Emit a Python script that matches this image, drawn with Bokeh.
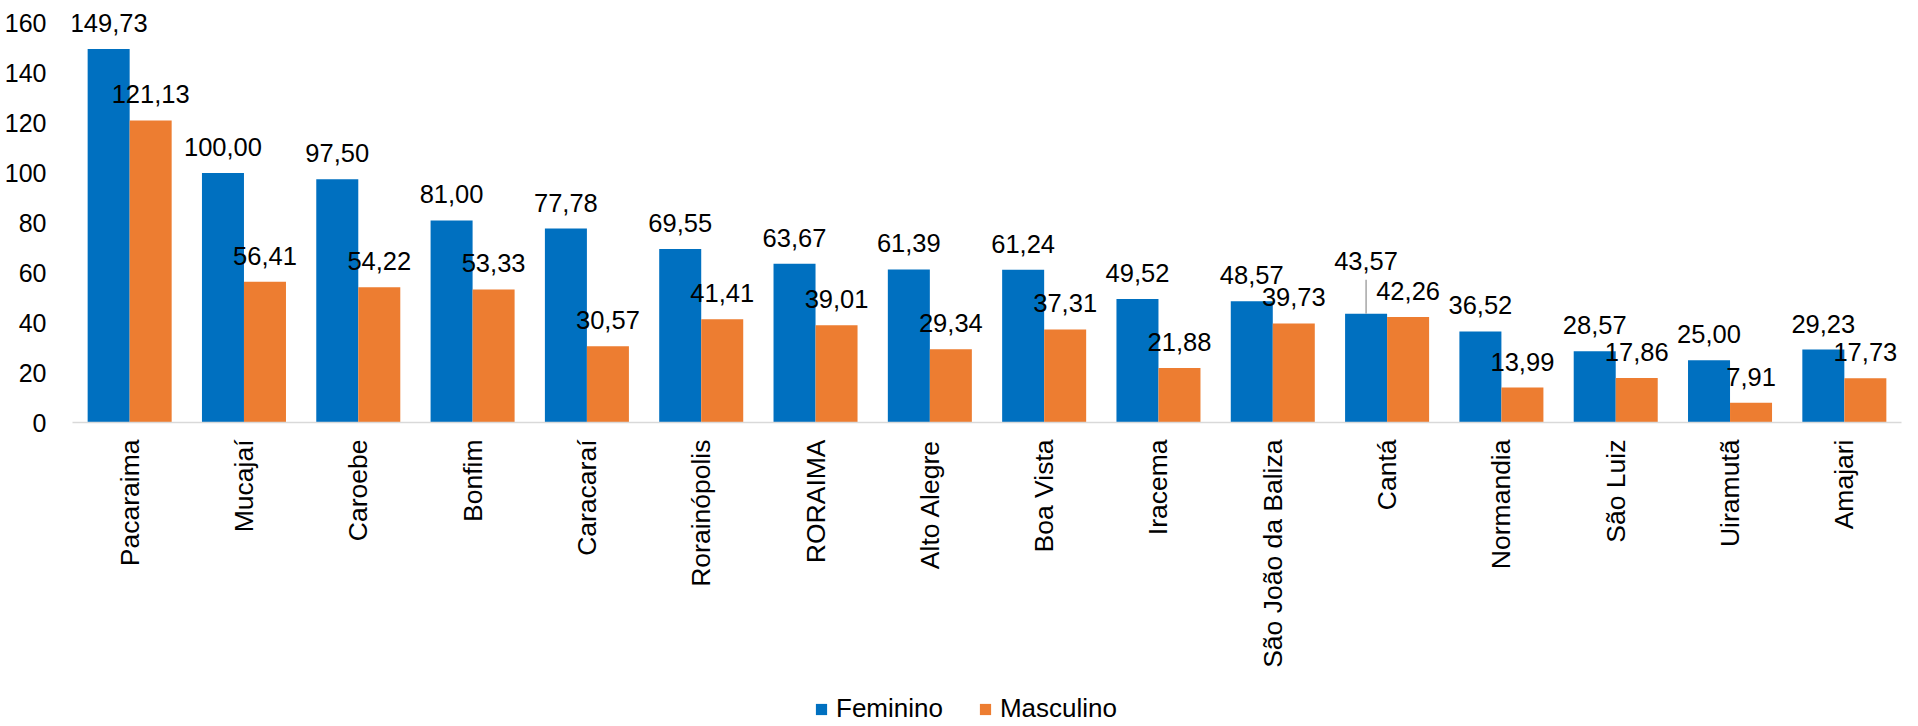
import math
from bokeh.plotting import figure
from bokeh.layouts import column
from bokeh.models import (ColumnDataSource, FactorRange, Range1d, FixedTicker,
                          LabelSet, Legend, LegendItem)
from bokeh.core.properties import value
from bokeh.transform import dodge
from bokeh.embed import file_html
from bokeh.resources import INLINE

# ---- data ----
categories = ["Pacaraima", "Mucajaí", "Caroebe", "Bonfim", "Caracaraí",
              "Rorainópolis", "RORAIMA", "Alto Alegre", "Boa Vista", "Iracema",
              "São João da Baliza", "Cantá", "Normandia", "São Luiz",
              "Uiramutã", "Amajari"]
feminino = [149.73, 100.00, 97.50, 81.00, 77.78, 69.55, 63.67, 61.39, 61.24,
            49.52, 48.57, 43.57, 36.52, 28.57, 25.00, 29.23]
masculino = [121.13, 56.41, 54.22, 53.33, 30.57, 41.41, 39.01, 29.34, 37.31,
             21.88, 39.73, 42.26, 13.99, 17.86, 7.91, 17.73]
y_ticks = [0, 20, 40, 60, 80, 100, 120, 140, 160]
series_names = ["Feminino", "Masculino"]

# ---- style ----
FONT = "Liberation Sans"
BLUE = "#0070C0"
ORANGE = "#ED7D31"
BAR_W = 0.3675
LABEL_PX = 17          # gap between bar top and label baseline
RAISED = {("Feminino", "Cantá"): 27}   # extra lift for an overlapping label


def fmt(v):
    return f"{v:.2f}".replace(".", ",")


W = 1918
H_MAIN, H_LEG = 690, 36
LEFT, RIGHT, TOP, BOTTOM = 72, 17, 3, 268
Y_END = 168            # head-room above the last tick so labels are not clipped
frame_h = H_MAIN - TOP - BOTTOM
px_per_unit = frame_h / Y_END

src = ColumnDataSource(dict(cat=categories, fem=feminino, mas=masculino))

p = figure(width=W, height=H_MAIN, output_backend="svg", toolbar_location=None,
           x_range=FactorRange(factors=categories, range_padding=0),
           y_range=Range1d(0, Y_END),
           min_border_left=LEFT, min_border_right=RIGHT,
           min_border_top=TOP, min_border_bottom=BOTTOM)
p.outline_line_color = None
p.xgrid.grid_line_color = None
p.ygrid.grid_line_color = None

r1 = p.vbar(x=dodge("cat", -BAR_W / 2, range=p.x_range), top="fem", width=BAR_W,
            source=src, fill_color=BLUE, line_color=None)
r2 = p.vbar(x=dodge("cat", BAR_W / 2, range=p.x_range), top="mas", width=BAR_W,
            source=src, fill_color=ORANGE, line_color=None)

# leader lines for raised labels
lx, ly0, ly1 = [], [], []
for (s, c), extra in RAISED.items():
    i = categories.index(c)
    v = feminino[i] if s == "Feminino" else masculino[i]
    lx.append(c)
    ly0.append(v)
    ly1.append(v + (extra + 7) / px_per_unit)
lsrc = ColumnDataSource(dict(x=lx, y0=ly0, y1=ly1))
p.segment(x0=dodge("x", -BAR_W / 2, range=p.x_range),
          x1=dodge("x", -BAR_W / 2, range=p.x_range),
          y0="y0", y1="y1", source=lsrc, line_color="#A6A6A6", line_width=1.5)

# data labels
for name, vals, d in ((series_names[0], feminino, -BAR_W / 2),
                      (series_names[1], masculino, BAR_W / 2)):
    offs = [LABEL_PX + RAISED.get((name, c), 0) for c in categories]
    for o in sorted(set(offs)):
        idx = [i for i, v in enumerate(offs) if v == o]
        s = ColumnDataSource(dict(cat=[categories[i] for i in idx],
                                  val=[vals[i] for i in idx],
                                  txt=[fmt(vals[i]) for i in idx]))
        p.add_layout(LabelSet(x=dodge("cat", d, range=p.x_range), y="val", text="txt",
                              y_offset=o, source=s,
                              text_font=value(FONT), text_font_size=value("25.5px"),
                              text_color="#000000",
                              text_align="center", text_baseline="alphabetic"))

# axes
xa = p.xaxis[0]
xa.axis_line_color = "#D9D9D9"
xa.axis_line_width = 1.5
xa.major_tick_line_color = None
xa.minor_tick_line_color = None
xa.major_label_orientation = math.pi / 2
xa.major_label_standoff = 11
xa.major_label_text_font = FONT
xa.major_label_text_font_size = "26.5px"
xa.major_label_text_color = "#000000"

ya = p.yaxis[0]
ya.ticker = FixedTicker(ticks=y_ticks)
ya.axis_line_color = None
ya.major_tick_line_color = None
ya.minor_tick_line_color = None
ya.major_label_standoff = 20
ya.major_label_text_font = FONT
ya.major_label_text_font_size = "25px"
ya.major_label_text_color = "#000000"

# legend in its own strip below the chart
pl = figure(width=W, height=H_LEG, output_backend="svg", toolbar_location=None,
            x_range=Range1d(0, 1), y_range=Range1d(0, 1), min_border=0)
pl.outline_line_color = None
pl.axis.visible = False
pl.grid.visible = False
d1 = pl.vbar(x=[0.5], top=[0], width=0.01, fill_color=BLUE, line_color=None)
d2 = pl.vbar(x=[0.5], top=[0], width=0.01, fill_color=ORANGE, line_color=None)
legend = Legend(items=[LegendItem(label=series_names[0], renderers=[d1]),
                       LegendItem(label=series_names[1], renderers=[d2])],
                orientation="horizontal", location=(742, 2),
                glyph_width=14, glyph_height=14, label_standoff=8, spacing=35,
                label_text_font=FONT, label_text_font_size="26px",
                label_text_color="#000000", border_line_color=None,
                background_fill_alpha=0, padding=0, margin=0)
pl.add_layout(legend, "center")

layout = column(p, pl, spacing=0)
open("out.html", "w").write(file_html(layout, INLINE))
